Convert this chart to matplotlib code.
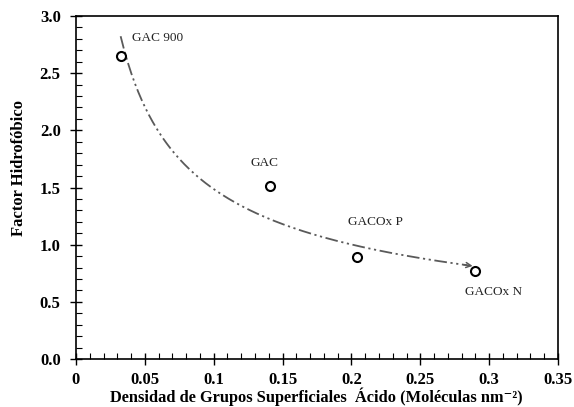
import numpy as np
import matplotlib
matplotlib.use("Agg")
import matplotlib.pyplot as plt
from matplotlib.ticker import MultipleLocator, FixedLocator, FixedFormatter

# Data
samples = ["GAC 900", "GAC", "GACOx P", "GACOx N"]
acid_density = [0.033, 0.141, 0.204, 0.290]
hydrophobic_factor = [2.65, 1.51, 0.89, 0.77]
# label anchor positions (data coords) for each sample name
label_x = [0.0404, 0.1367, 0.2171, 0.3031]
label_y = [2.81, 1.716, 1.196, 0.588]
# trend line range (power trendline fitted to the data)
trend_range = [0.0324, 0.288]

xticks = [0, 0.05, 0.1, 0.15, 0.2, 0.25, 0.3, 0.35]
xtick_labels = ["0", "0.05", "0.1", "0.15", "0.2", "0.25", "0.3", "0.35"]
yticks = [0.0, 0.5, 1.0, 1.5, 2.0, 2.5, 3.0]
ytick_labels = ["0.0", "0.5", "1.0", "1.5", "2.0", "2.5", "3.0"]

serif = ["Liberation Serif", "DejaVu Serif"]
plt.rcParams["font.family"] = serif

fig = plt.figure(figsize=(5.74, 4.07), dpi=100)
ax = fig.add_axes([76/574, 1-359/407, (558-76)/574, (359-16)/407])

# power trendline y = a x^b fitted in log space
b, lna = np.polyfit(np.log(acid_density), np.log(hydrophobic_factor), 1)
xs = np.linspace(trend_range[0], trend_range[1], 200)
ys = np.exp(lna) * xs ** b
ax.plot(xs[:-3], ys[:-3], color="#5a5a5a", lw=1.3,
        linestyle=(0, (7, 2, 1.2, 2, 1.2, 2)), zorder=2)
ax.annotate("", xy=(xs[-1], ys[-1]), xytext=(xs[-6], ys[-6]),
            arrowprops=dict(arrowstyle="->", color="#5a5a5a", lw=1.1,
                            mutation_scale=9, shrinkA=0, shrinkB=0))

ax.plot(acid_density, hydrophobic_factor, linestyle="none", marker="o",
        markersize=6.5, markerfacecolor="white", markeredgecolor="black",
        markeredgewidth=1.5, zorder=3)

for name, lx, ly in zip(samples, label_x, label_y):
    ax.text(lx, ly, name, fontsize=9.5, ha="center" if name != "GAC 900" else "left",
            va="center", color="#222222")

ax.set_xlim(0, 0.35)
ax.set_ylim(0, 3.0)
ax.xaxis.set_major_locator(FixedLocator(xticks))
ax.xaxis.set_major_formatter(FixedFormatter(xtick_labels))
ax.yaxis.set_major_locator(FixedLocator(yticks))
ax.yaxis.set_major_formatter(FixedFormatter(ytick_labels))
ax.xaxis.set_minor_locator(MultipleLocator(0.01))
ax.yaxis.set_minor_locator(MultipleLocator(0.1))

ax.tick_params(which="major", direction="inout", length=8, width=1.0,
               labelsize=12, pad=7, top=False, right=False)
ax.tick_params(axis="x", which="major", pad=5.5)
ax.tick_params(which="minor", direction="in", length=4, width=0.8,
               top=False, right=False)
for lab in ax.get_xticklabels() + ax.get_yticklabels():
    lab.set_fontweight("bold")

for s in ax.spines.values():
    s.set_linewidth(1.2)

ax.set_xlabel("Densidad de Grupos Superficiales  Ácido (Moléculas nm\u207b\u00b2)",
              fontsize=11.8, fontweight="bold", family=serif)
ax.xaxis.label.set_verticalalignment("center")
ax.xaxis.set_label_coords(0.498, -0.111)
ax.set_ylabel("Factor Hidrofóbico", fontsize=12, fontweight="bold")
ax.yaxis.set_label_coords(-0.102, 0.557)

fig.savefig("out.png", dpi=100)
